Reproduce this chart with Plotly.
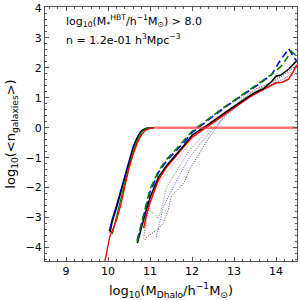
import plotly.graph_objects as go

# ---- central (solid) ----
cen_blue_x = [10.03, 10.1, 10.2, 10.3, 10.4, 10.5, 10.6, 10.7, 10.8, 10.9, 11.0, 11.1]
cen_blue_y = [-3.45, -3.05, -2.6, -2.1, -1.6, -1.08, -0.62, -0.3, -0.09, -0.02, 0.0, 0.0]
cen_black_x = [10.05, 10.1, 10.2, 10.3, 10.4, 10.5, 10.6, 10.7, 10.8, 10.9, 11.0, 11.1]
cen_black_y = [-3.5, -3.15, -2.7, -2.2, -1.7, -1.15, -0.68, -0.33, -0.1, -0.02, 0.0, 0.0]
cen_green_x = [10.1, 10.2, 10.3, 10.4, 10.5, 10.6, 10.7, 10.8, 10.9, 11.0, 11.1]
cen_green_y = [-3.55, -2.95, -2.4, -1.85, -1.3, -0.8, -0.42, -0.15, -0.04, 0.0, 0.0]
cen_red_x = [9.9, 9.95, 10.04, 10.2, 10.3, 10.4, 10.5, 10.6, 10.7, 10.8, 10.9, 11.0, 11.1,
             11.5, 12.0, 13.0, 14.0, 14.5]
cen_red_y = [-4.6, -4.3, -3.65, -3.1, -2.6, -1.98, -1.35, -0.88, -0.5, -0.23, -0.08, -0.02, 0.0,
             0.0, 0.0, 0.0, 0.0, 0.0]

# ---- satellites (dashed / heavy) ----
sat_green_x = [10.69, 10.8, 10.9, 11.0, 11.2, 11.4, 11.6, 11.8, 12.0, 12.4, 12.8, 13.2, 13.6,
               13.9, 14.1, 14.25, 14.36, 14.45, 14.5]
sat_green_y = [-3.8, -3.15, -2.6, -2.05, -1.45, -1.05, -0.75, -0.45, -0.12, 0.3, 0.72, 1.1, 1.48,
               1.78, 2.02, 2.3, 2.55, 2.45, 2.38]
sat_blue_x = [10.7, 10.8, 10.9, 11.0, 11.2, 11.4, 11.6, 11.8, 12.0, 12.4, 12.8, 13.2, 13.6,
              13.9, 14.08, 14.3, 14.48, 14.5]
sat_blue_y = [-3.75, -3.2, -2.68, -2.15, -1.5, -1.1, -0.8, -0.5, -0.16, 0.27, 0.7, 1.08, 1.46,
              1.78, 2.2, 2.64, 2.25, 2.2]
sat_black_x = [10.7, 10.8, 10.9, 11.0, 11.2, 11.4, 11.6, 11.8, 12.0, 12.4, 12.8, 13.2, 13.5,
               13.7, 13.9, 14.0, 14.1, 14.3, 14.5]
sat_black_y = [-3.85, -3.3, -2.8, -2.33, -1.65, -1.25, -0.93, -0.6, -0.25, 0.12, 0.52, 0.9, 1.18,
               1.3, 1.55, 1.72, 1.75, 1.95, 2.25]
sat_red_x = [10.85, 10.9, 11.0, 11.2, 11.4, 11.6, 11.8, 12.0, 12.4, 12.8, 13.2, 13.4, 13.6,
             13.8, 14.0, 14.15, 14.3, 14.4, 14.5]
sat_red_y = [-3.35, -3.0, -2.5, -1.75, -1.3, -0.98, -0.65, -0.32, 0.07, 0.45, 0.85, 1.05, 1.2,
             1.35, 1.5, 1.52, 1.62, 1.85, 2.1]

# ---- dotted ----
dot_red_x = [10.85, 10.95, 11.1, 11.3, 11.55, 11.8, 11.94, 12.4, 12.73, 13.1, 13.53, 13.9,
             14.15, 14.3, 14.45, 14.5]
dot_red_y = [-3.7, -2.9, -2.15, -1.67, -1.23, -0.8, -0.5, 0.15, 0.6, 0.95, 1.3, 1.4,
             1.52, 1.85, 1.85, 1.9]
dot_green_x = [10.85, 10.95, 11.07, 11.19, 11.27, 11.39, 11.63, 11.94, 12.3, 12.73, 13.1, 13.53,
               14.0, 14.32, 14.5]
dot_green_y = [-3.6, -2.75, -2.83, -3.04, -2.72, -2.0, -1.45, -0.75, -0.2, 0.45, 0.85, 1.22,
               1.63, 1.96, 2.2]
dot_blue_x = [11.15, 11.23, 11.31, 11.47, 11.71, 11.94, 12.3, 12.73, 13.1, 13.53, 13.92, 14.24,
              14.48, 14.5]
dot_blue_y = [-3.65, -3.2, -2.66, -2.22, -1.56, -1.0, -0.35, 0.3, 0.75, 1.15, 1.46, 1.68,
              1.79, 1.8]
dot_black_x = [10.88, 10.92, 11.15, 11.31, 11.43, 11.51, 11.71, 11.83, 11.94, 12.2, 12.42, 12.89,
               13.2, 13.53, 13.92, 14.16, 14.48, 14.5]
dot_black_y = [-3.75, -3.65, -3.43, -3.2, -2.77, -2.28, -2.0, -1.78, -1.4, -0.8, -0.3, 0.6,
               0.95, 1.3, 1.52, 1.74, 2.07, 2.1]

x_ticks = [9, 10, 11, 12, 13, 14]
y_ticks = [-4, -3, -2, -1, 0, 1, 2, 3, 4]

FONT = "DejaVu Sans"
fig = go.Figure()


def add(x, y, color, width, dash="solid"):
    fig.add_trace(go.Scatter(x=x, y=y, mode="lines",
                             line=dict(color=color, width=width, dash=dash),
                             showlegend=False, hoverinfo="skip"))


# dotted
add(dot_black_x, dot_black_y, "rgba(0,0,0,0.75)", 1.0, "1px,1.5px")
add(dot_blue_x, dot_blue_y, "rgba(0,0,255,0.7)", 1.0, "1px,1.5px")
add(dot_green_x, dot_green_y, "rgba(0,128,0,0.7)", 1.0, "1px,1.5px")
add(dot_red_x, dot_red_y, "rgba(255,0,0,0.5)", 1.0, "1px,1.5px")
# satellites
add(sat_red_x, sat_red_y, "red", 1.5)
add(sat_black_x, sat_black_y, "black", 1.5)
add(sat_blue_x, sat_blue_y, "blue", 1.6, "7px,4px")
add(sat_green_x, sat_green_y, "green", 1.6, "7px,4px")
# centrals
add(cen_blue_x, cen_blue_y, "blue", 1.3)
add(cen_black_x, cen_black_y, "black", 1.3)
add(cen_green_x, cen_green_y, "green", 1.3)
# red central: rising part and flat plateau
k = next(i for i, v in enumerate(cen_red_y) if v >= 0)
add(cen_red_x[:k + 1], cen_red_y[:k + 1], "red", 1.3)
add(cen_red_x[k:], cen_red_y[k:], "rgba(255,60,60,0.7)", 2.5)

axis_common = dict(showline=True, linecolor="#555", linewidth=1.2, mirror="allticks",
                   ticks="inside", ticklen=4, tickwidth=1, tickcolor="#555",
                   showgrid=False, zeroline=False, ticklabeloverflow="allow",
                   tickfont=dict(family=FONT, size=11, color="black"),
                   minor=dict(ticks="inside", ticklen=2, tickcolor="#555", dtick=0.2,
                              showgrid=False))

fig.update_xaxes(range=[8.5, 14.5], tickvals=x_ticks, ticktext=[str(v) for v in x_ticks],
                 title=dict(text="log<sub>10</sub>(M<sub>Dhalo</sub>/h<sup>\u22121</sup>M<sub>\u2299</sub>)",
                            font=dict(family=FONT, size=13, color="black"), standoff=8),
                 **axis_common)
fig.update_yaxes(range=[-4.45, 4.03], tickvals=y_ticks,
                 ticktext=[str(v).replace("-", "\u2212") for v in y_ticks],
                 title=dict(text="log<sub>10</sub>(&lt;n<sub>galaxies</sub>&gt;)",
                            font=dict(family=FONT, size=13, color="black"), standoff=6),
                 **axis_common)

fig.add_annotation(xref="paper", yref="paper", x=0.075, y=0.945, xanchor="left", yanchor="middle",
                   showarrow=False, align="left",
                   text="log<sub>10</sub>(M<sub>*</sub><sup>HBT</sup>/h<sup>\u22121</sup>M<sub>\u2299</sub>) &gt; 8.0",
                   font=dict(family=FONT, size=11, color="black"))
fig.add_annotation(xref="paper", yref="paper", x=0.075, y=0.872, xanchor="left", yanchor="middle",
                   showarrow=False, align="left",
                   text="n = 1.2e-01 h<sup>3</sup>Mpc<sup>\u22123</sup>",
                   font=dict(family=FONT, size=11, color="black"))

fig.update_layout(width=300, height=300, margin=dict(l=45, r=2, t=4, b=39),
                  paper_bgcolor="white", plot_bgcolor="white",
                  font=dict(family=FONT, color="black"))

fig.write_html("out.html", config={"displayModeBar": False},
               post_script="document.body.style.margin='0';document.body.style.padding='0';")
